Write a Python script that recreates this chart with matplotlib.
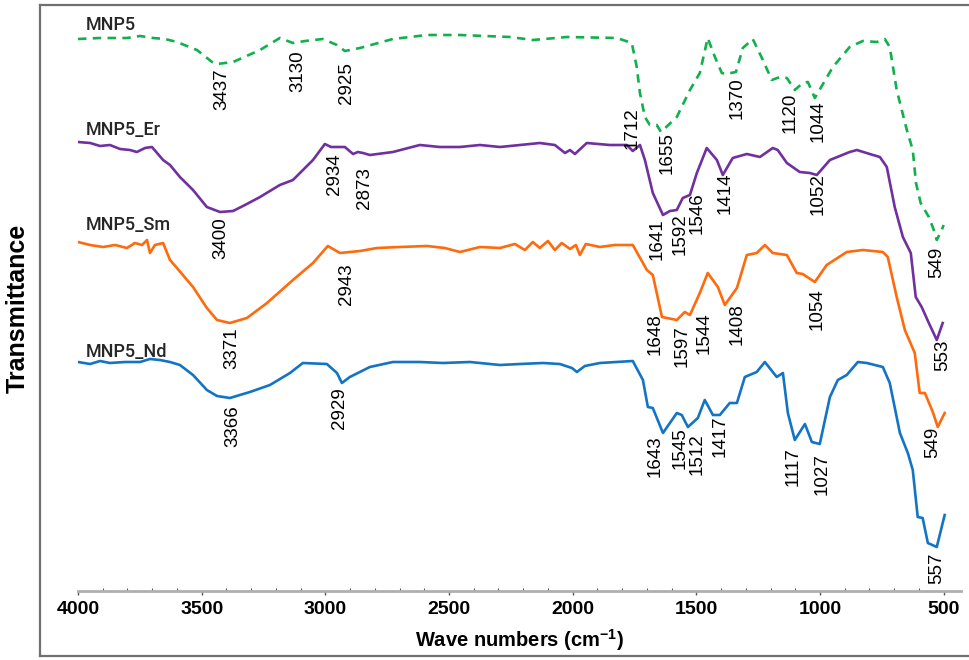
import matplotlib
matplotlib.use("Agg")
from matplotlib import pyplot as plt
from matplotlib.lines import Line2D

# FTIR spectra, transmittance in arbitrary (offset) units
mnp5_wn = [4000, 3911, 3802, 3749, 3697, 3648, 3600, 3519, 3458, 3438, 3373, 3264, 3184, 3131,
           3082, 3010, 2953, 2921, 2860, 2727, 2589, 2456, 2254, 2161, 2023, 1821, 1761, 1741,
           1728, 1708, 1688, 1660, 1643, 1579, 1526, 1486, 1454, 1425, 1397, 1381, 1340, 1312,
           1272, 1231, 1195, 1162, 1134, 1102, 1070, 1049, 1021, 948, 880, 827, 770, 738, 718,
           690, 649, 625, 612, 593, 560, 540, 528, 508, 500]
mnp5_t = [561, 562, 562, 564, 562, 561, 558, 550, 538, 536, 538, 550, 562, 557,
          559, 561, 555, 549, 552, 561, 565, 565, 563, 560, 563, 562, 557, 533,
          507, 483, 475, 475, 468, 483, 510, 527, 562, 543, 527, 526, 528, 552,
          561, 540, 520, 523, 522, 510, 517, 518, 502, 533, 553, 559, 558, 561, 553,
          510, 470, 450, 417, 397, 383, 370, 360, 370, 375]

er_wn = [4000, 3951, 3911, 3871, 3830, 3790, 3762, 3729, 3701, 3656, 3628, 3588, 3535, 3479,
         3426, 3373, 3325, 3264, 3184, 3131, 3050, 3002, 2977, 2953, 2921, 2888, 2868, 2848,
         2820, 2727, 2618, 2537, 2456, 2375, 2294, 2213, 2133, 2072, 2031, 2011, 1991, 1943,
         1850, 1781, 1757, 1728, 1708, 1676, 1635, 1607, 1579, 1555, 1526, 1498, 1458, 1417,
         1393, 1353, 1296, 1243, 1191, 1171, 1134, 1082, 1041, 1013, 960, 880, 851, 799, 758,
         730, 698, 665, 633, 613, 589, 560, 528, 504]
er_t = [458, 457, 454, 455, 451, 450, 448, 452, 453, 440, 435, 423, 410, 393,
        388, 389, 395, 403, 415, 420, 440, 456, 453, 453, 453, 446, 448, 447,
        445, 448, 455, 453, 453, 455, 453, 455, 457, 455, 447, 450, 446, 457,
        455, 455, 449, 455, 440, 407, 385, 389, 390, 402, 405, 427, 452, 440,
        425, 442, 446, 443, 452, 450, 437, 428, 427, 425, 440, 448, 450, 446, 443,
        433, 393, 363, 347, 303, 293, 277, 260, 277]

sm_wn = [4000, 3951, 3899, 3850, 3802, 3770, 3741, 3721, 3709, 3689, 3656, 3628, 3600, 3535,
         3479, 3438, 3386, 3317, 3236, 3131, 3050, 2990, 2941, 2860, 2791, 2698, 2589, 2517,
         2456, 2375, 2294, 2234, 2193, 2161, 2133, 2100, 2072, 2044, 2011, 1987, 1971, 1947,
         1890, 1830, 1757, 1700, 1676, 1639, 1579, 1547, 1526, 1486, 1454, 1413, 1385, 1336,
         1296, 1256, 1223, 1191, 1134, 1094, 1070, 1021, 973, 892, 827, 746, 726, 690, 657,
         617, 597, 576, 544, 524, 496]
sm_t = [358, 355, 353, 355, 352, 357, 355, 360, 347, 355, 357, 340, 332, 313,
        292, 280, 277, 282, 297, 320, 337, 354, 347, 349, 352, 353, 354, 352,
        348, 353, 352, 356, 350, 358, 352, 359, 350, 357, 351, 355, 345, 356,
        353, 355, 355, 330, 325, 283, 280, 288, 285, 307, 327, 313, 295, 312,
        345, 347, 355, 347, 345, 327, 326, 318, 335, 348, 350, 348, 343, 303, 270,
        247, 207, 207, 188, 173, 187]

nd_wn = [4000, 3951, 3911, 3871, 3810, 3749, 3709, 3669, 3628, 3588, 3535, 3479, 3438, 3386,
         3305, 3224, 3143, 3091, 2994, 2953, 2933, 2901, 2820, 2727, 2618, 2525, 2415, 2294,
         2213, 2120, 2052, 2003, 1983, 1951, 1890, 1757, 1716, 1696, 1676, 1635, 1579, 1559,
         1534, 1494, 1466, 1433, 1405, 1365, 1336, 1304, 1256, 1223, 1175, 1150, 1130, 1102,
         1061, 1033, 1001, 960, 928, 892, 847, 811, 746, 718, 677, 645, 625, 605, 585, 564,
         528, 496]
nd_t = [238, 236, 239, 237, 238, 238, 241, 240, 238, 235, 225, 210, 204, 202,
        208, 215, 227, 237, 236, 227, 217, 223, 233, 238, 238, 237, 238, 235,
        236, 237, 236, 232, 228, 234, 237, 239, 220, 193, 192, 167, 187, 185,
        173, 182, 200, 185, 185, 197, 197, 223, 228, 238, 223, 227, 187, 160,
        176, 158, 156, 203, 220, 225, 238, 237, 233, 217, 167, 147, 130, 83, 82, 57,
        53, 85]

series_names = ["MNP5", "MNP5_Er", "MNP5_Sm", "MNP5_Nd"]
series_colors = ["#12b04c", "#7030a0", "#ff6a0d", "#1474c4"]

# peak labels: text
mnp5_peaks = ["3437", "3130", "2925", "1712", "1655", "1370", "1120", "1044", "549"]
er_peaks = ["3400", "2934", "2873", "1641", "1592", "1546", "1414", "1052", "553"]
sm_peaks = ["3371", "2943", "1648", "1597", "1544", "1408", "1054", "549"]
nd_peaks = ["3366", "2929", "1643", "1545", "1512", "1417", "1117", "1027", "557"]

# where the label tops sit (x in cm-1, y in plot units)
mnp5_pos = [(3418, 532), (3111, 550), (2913, 538), (1761, 493), (1619, 468), (1336, 523),
            (1122, 507), (1009, 500), (528, 353)]
er_pos = [(3422, 383), (2961, 447), (2840, 433), (1660, 382), (1567, 387), (1498, 408),
          (1385, 427), (1009, 427), (504, 260)]
sm_pos = [(3378, 273), (2913, 337), (1668, 287), (1559, 275), (1470, 288), (1336, 297),
          (1013, 312), (544, 173)]
nd_pos = [(3373, 195), (2941, 213), (1668, 165), (1567, 173), (1498, 167), (1405, 185),
          (1110, 153), (993, 147), (528, 47)]
name_pos = [(3968, 570), (3968, 465), (3968, 370), (3968, 243)]

plt.rcParams['mathtext.fontset'] = 'custom'
plt.rcParams['mathtext.bf'] = 'Liberation Sans:bold'
plt.rcParams['mathtext.rm'] = 'Liberation Sans:bold'

fig = plt.figure(figsize=(9.7, 6.6), dpi=100)
ax = fig.add_axes([78 / 970, 1 - 591 / 660, (961 - 78) / 970, (591 - 5) / 660])

ax.plot(mnp5_wn, mnp5_t, color=series_colors[0], lw=1.9, ls=(0, (3.2, 2.4)))
ax.plot(er_wn, er_t, color=series_colors[1], lw=1.9)
ax.plot(sm_wn, sm_t, color=series_colors[2], lw=1.9)
ax.plot(nd_wn, nd_t, color=series_colors[3], lw=1.9)

for labels, pos in [(mnp5_peaks, mnp5_pos), (er_peaks, er_pos), (sm_peaks, sm_pos), (nd_peaks, nd_pos)]:
    for s, (x, y) in zip(labels, pos):
        ax.text(x, y, s, rotation=90, ha='center', va='top', fontsize=13.5,
                family='Liberation Sans', color='black')

for name, (x, y) in zip(series_names, name_pos):
    ax.text(x, y, name, ha='left', va='baseline', fontsize=13, fontweight='medium',
            family='Roboto', color='#262626')

ax.set_xlim(4000, 430)
ax.set_ylim(9, 595)
ax.set_xticks([4000, 3500, 3000, 2500, 2000, 1500, 1000, 500])
ax.set_xticks(range(500, 4001, 100), minor=True)
for lab in ax.get_xticklabels():
    lab.set_fontfamily('Liberation Sans')
    lab.set_fontweight('bold')
    lab.set_fontsize(14)
ax.tick_params(axis='x', which='major', direction='out', length=3, width=1, color='#555555', pad=4)
ax.tick_params(axis='x', which='minor', direction='in', length=2, width=0.8, color='#555555')
ax.set_yticks([])
for side in ['left', 'right', 'top']:
    ax.spines[side].set_visible(False)
ax.spines['bottom'].set_color('#b0b0b0')
ax.spines['bottom'].set_linewidth(2)

ax.set_xlabel(r'Wave numbers (cm$^{\mathbf{-1}}$)', fontsize=14.5, fontweight='bold',
              family='Liberation Sans', labelpad=7)
fig.text(18 / 970, 1 - 308 / 660, 'Transmittance', rotation=90, ha='center', va='center',
         fontsize=18, fontweight='bold', family='Liberation Sans')

# outer frame
fc = '#707070'
fig.add_artist(Line2D([40 / 970, 40 / 970], [1 - 656 / 660, 1 - 5 / 660], color=fc, lw=1.6))
fig.add_artist(Line2D([40 / 970, 1.0], [1 - 5 / 660, 1 - 5 / 660], color=fc, lw=1.6))
fig.add_artist(Line2D([40 / 970, 1.0], [1 - 656 / 660, 1 - 656 / 660], color=fc, lw=1.6))

fig.savefig('out.png', dpi=100)
